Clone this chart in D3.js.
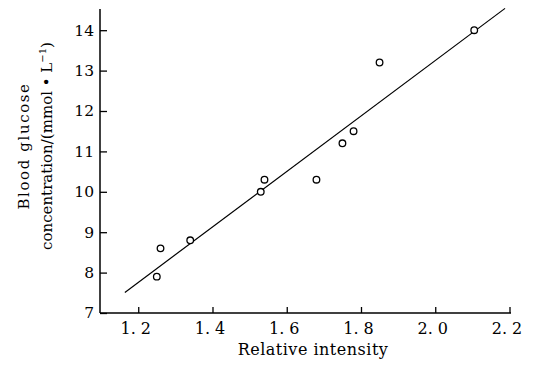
<!DOCTYPE html>
<html>
<head>
<meta charset="utf-8">
<script src="https://cdn.jsdelivr.net/npm/d3@7"></script>
<style>
  body { margin: 0; background: #fff; }
  svg { display: block; }
</style>
</head>
<body>
<div id="chart"></div>
<script>
// measured points (relative intensity vs blood glucose)
var intensity = [1.25, 1.26, 1.34, 1.53, 1.54, 1.68, 1.75, 1.78, 1.85, 2.105];
var glucose   = [7.9, 8.6, 8.8, 10.0, 10.3, 10.3, 11.2, 11.5, 13.2, 14.0];

// fitted line end points
var fitX = [1.164, 2.188];
var fitY = [7.51, 14.54];

var xTicks = [1.2, 1.4, 1.6, 1.8, 2.0, 2.2];
var yTicks = [7, 8, 9, 10, 11, 12, 13, 14];

var width = 533, height = 368;
var serif = '"DejaVu Serif", serif';

var svg = d3.select('#chart').append('svg')
    .attr('width', width)
    .attr('height', height)
    .style('font-family', serif);

var x = d3.scaleLinear().domain([1.097, 2.2]).range([100, 509.5]);
var y = d3.scaleLinear().domain([7, 14.5]).range([313, 10]);

// x axis
var xAxis = svg.append('g')
    .attr('transform', 'translate(0,313)')
    .call(d3.axisBottom(x)
        .tickValues(xTicks)
        .tickSize(-6)
        .tickPadding(10)
        .tickSizeOuter(0)
        .tickFormat(function(d) { return d3.format('.1f')(d).replace('.', '. '); }));
xAxis.select('.domain').attr('d', 'M100,0H511').attr('stroke-width', 1.5);
xAxis.selectAll('.tick line').attr('stroke-width', 1.3);
xAxis.selectAll('.tick text')
    .attr('font-size', 16)
    .attr('font-family', serif)
    .attr('fill', '#000')
    .attr('dx', -3);

// y axis
var yAxis = svg.append('g')
    .attr('transform', 'translate(100,0)')
    .call(d3.axisLeft(y)
        .tickValues(yTicks)
        .tickSize(-7)
        .tickPadding(6)
        .tickSizeOuter(0));
yAxis.select('.domain').attr('d', 'M0,9V313').attr('stroke-width', 1.5);
yAxis.selectAll('.tick line').attr('stroke-width', 1.3);
yAxis.selectAll('.tick text')
    .attr('font-size', 15.5)
    .attr('font-family', serif)
    .attr('fill', '#000');

// fitted line
svg.append('path')
    .datum(d3.zip(fitX, fitY))
    .attr('fill', 'none')
    .attr('stroke', '#000')
    .attr('stroke-width', 1.2)
    .attr('d', d3.line().x(function(d) { return x(d[0]); }).y(function(d) { return y(d[1]); }));

// points
svg.append('g').selectAll('circle')
    .data(d3.zip(intensity, glucose))
    .join('circle')
    .attr('cx', function(d) { return x(d[0]); })
    .attr('cy', function(d) { return y(d[1]); })
    .attr('r', 3.3)
    .attr('fill', '#fff')
    .attr('stroke', '#000')
    .attr('stroke-width', 1.3);

// axis titles
svg.append('text')
    .attr('x', 313)
    .attr('y', 355)
    .attr('text-anchor', 'middle')
    .attr('font-family', serif)
    .attr('font-size', 16)
    .attr('letter-spacing', 0.5)
    .text('Relative intensity');

var yt = svg.append('text')
    .attr('transform', 'translate(29,146) rotate(-90)')
    .attr('text-anchor', 'middle')
    .attr('font-family', serif)
    .attr('font-size', 15);
yt.append('tspan')
    .attr('x', 0)
    .attr('y', 0)
    .attr('letter-spacing', 1.6)
    .text('Blood glucose');
yt.append('tspan')
    .attr('x', 0)
    .attr('y', 23)
    .text('concentration/(mmol \u2022 L');
yt.append('tspan')
    .attr('dy', -6)
    .attr('font-size', 10)
    .text('\u22121');
yt.append('tspan')
    .attr('dy', 6)
    .text(')');
</script>
</body>
</html>
